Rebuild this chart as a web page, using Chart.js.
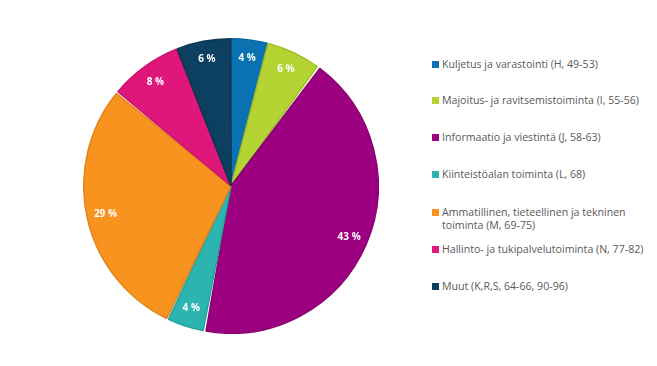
<!DOCTYPE html>
<html lang="fi">
<head>
  <meta charset="UTF-8">
  <title>Toimialojen osuudet</title>
  <script src="https://cdn.jsdelivr.net/npm/chart.js"></script>
  <style>
    body {
      margin: 0;
      background: #fff;
      font-family: "Open Sans", Arial, sans-serif;
    }
    #wrap {
      position: relative;
      width: 657px;
      height: 366px;
    }
    #pieBox {
      position: absolute;
      left: 83px;
      top: 38px;
      width: 296px;
      height: 296px;
    }
    #legend {
      position: absolute;
      left: 432px;
      top: 0;
      width: 222px;
      font-size: 10.6px;
      color: #595959;
    }
    .item {
      position: absolute;
      left: 0;
      width: 210px;
      line-height: 13px;
      padding-left: 10px;
    }
    .box {
      position: absolute;
      left: 0;
      top: 3px;
      width: 7px;
      height: 7px;
    }
  </style>
</head>
<body>
  <div id="wrap">
    <div id="pieBox"><canvas id="pieChart"></canvas></div>
    <div id="legend"></div>
  </div>

  <script>
    // data
    const labels = [
      'Kuljetus ja varastointi (H, 49-53)',
      'Majoitus- ja ravitsemistoiminta (I, 55-56)',
      'Informaatio ja viestintä (J, 58-63)',
      'Kiinteistöalan toiminta (L, 68)',
      'Ammatillinen, tieteellinen ja tekninen toiminta (M, 69-75)',
      'Hallinto- ja tukipalvelutoiminta (N, 77-82)',
      'Muut (K,R,S, 64-66, 90-96)'
    ];
    const shares = [4, 6, 43, 4, 29, 8, 6];
    const colors = ['#0a72b0', '#b6d334', '#9c0080', '#2cb5b0', '#f7931e', '#e0177a', '#0c3f60'];
    const edgeColors = ['#0a669e', '#a3bf2a', '#8a0071', '#26a29e', '#e0841a', '#c9146d', '#0a3653'];
    // top of each legend row (px)
    const legendTops = [58, 94, 131, 168, 206, 243, 280];

    // legend built from the arrays
    const legendEl = document.getElementById('legend');
    labels.forEach((lab, i) => {
      const div = document.createElement('div');
      div.className = 'item';
      div.style.top = legendTops[i] + 'px';
      div.innerHTML = '<span class="box" style="background:' + colors[i] + '"></span>' + lab;
      legendEl.appendChild(div);
    });

    // percentage labels inside slices
    const sliceLabels = {
      id: 'sliceLabels',
      afterDatasetsDraw(chart) {
        const ctx = chart.ctx;
        const meta = chart.getDatasetMeta(0);
        ctx.save();
        ctx.fillStyle = '#fff';
        ctx.font = 'bold 10px "Open Sans", Arial, sans-serif';
        ctx.textAlign = 'center';
        ctx.textBaseline = 'middle';
        meta.data.forEach((arc, i) => {
          const p = arc.getProps(['x', 'y', 'startAngle', 'endAngle', 'outerRadius']);
          const mid = (p.startAngle + p.endAngle) / 2;
          const r = p.outerRadius * 0.88;
          ctx.fillText(shares[i] + ' %', p.x + Math.cos(mid) * r, p.y + Math.sin(mid) * r);
        });
        ctx.restore();
      }
    };

    new Chart(document.getElementById('pieChart'), {
      type: 'pie',
      data: {
        labels: labels,
        datasets: [{
          data: shares,
          backgroundColor: colors,
          borderColor: edgeColors,
          borderWidth: 1.5,
          spacing: 2
        }]
      },
      options: {
        responsive: true,
        maintainAspectRatio: false,
        animation: false,
        layout: { padding: 0 },
        plugins: {
          legend: { display: false },
          tooltip: { enabled: false }
        }
      },
      plugins: [sliceLabels]
    });
  </script>
</body>
</html>
